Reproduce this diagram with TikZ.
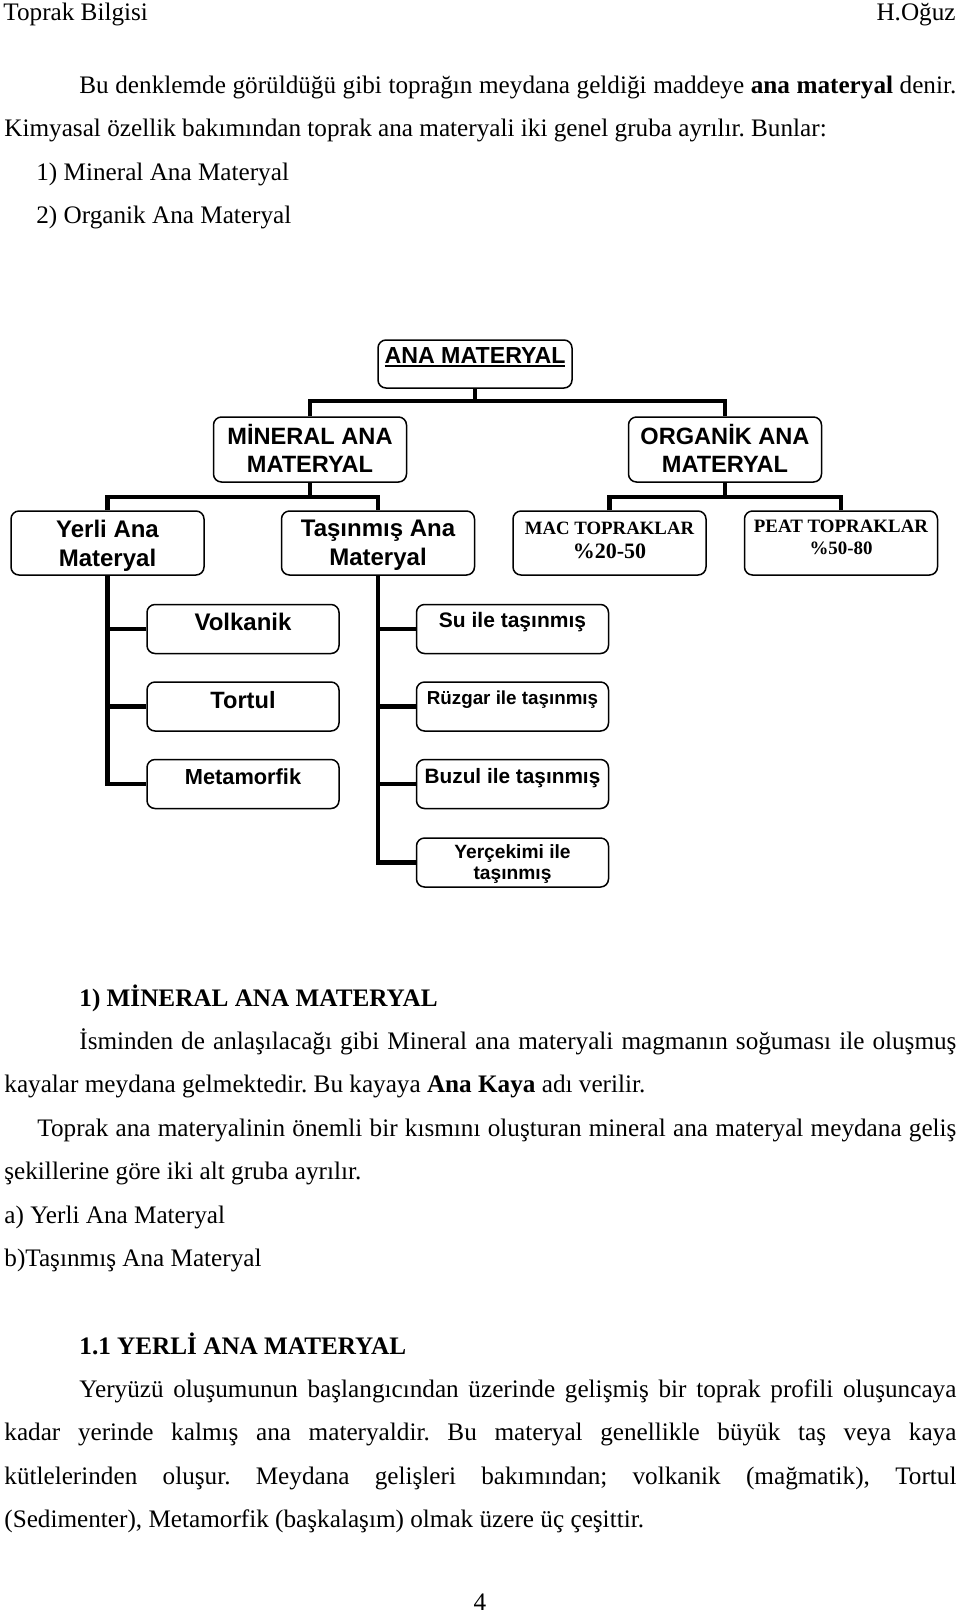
\documentclass[tikz,border=0pt]{standalone}
\usepackage{fontspec}
\setmainfont{Liberation Serif}
\newfontfamily\arialfont{Liberation Sans}
\usetikzlibrary{positioning,calc}
\pgfdeclarelayer{bg}
\pgfsetlayers{bg,main}
\frenchspacing
\newcommand{\bodyfont}{\fontsize{12.6}{15}\selectfont}
\newcommand{\boxf}[2]{\arialfont\bfseries\fontsize{#1}{#2}\selectfont}
\newcommand{\tbf}[2]{\bfseries\fontsize{#1}{#2}\selectfont}
\newcommand{\anaul}[1]{\setbox0\hbox{#1}\rlap{\rule[-1.8pt]{\wd0}{1pt}}\box0}
\newcommand{\jline}[2]{\makebox[#1][s]{#2}}
\tikzset{%
	matbox/.style  = {draw, line width=0.75pt, rounded corners=4pt, fill=white, inner sep=0pt, align=center},
	bigbox/.style  = {matbox, minimum width=96.5pt, minimum height=32pt},
	leafbox/.style = {matbox, minimum width=96pt, minimum height=24.5pt},
	link/.style    = {line width=2.2pt},
	txt/.style     = {anchor=base west, inner sep=0pt, font=\bodyfont},
}
\begin{document}
\begin{tikzpicture}[x=0.5pt,y=-0.5pt]
	\useasboundingbox (0,0) rectangle (960,1613);
	% page head
	\node[txt] (head) at (3,20) {Toprak Bilgisi};
	\node[txt,anchor=base east] (auth) at (956,20) {H.Oğuz};
	% text above the chart
	\node[txt] (p1) at (79,93) {\jline{438.5pt}{Bu denklemde görüldüğü gibi toprağın meydana geldiği maddeye \textbf{ana materyal} denir.}};
	\node[txt] (p2) at (4,136.5) {Kimyasal özellik bakımından toprak ana materyali iki genel gruba ayrılır. Bunlar:};
	\node[txt] (p3) at (36,180) {1) Mineral Ana Materyal};
	\node[txt] (p4) at (36,223.5) {2) Organik Ana Materyal};
	% chart
	\node[matbox, minimum width=97pt, minimum height=24pt, font=\boxf{11.6}{14}, text height=8pt, text depth=8.5pt] (ana) at (475,364) {\anaul{ANA MATERYAL}};
	\node[bigbox, minimum height=32.5pt, font=\boxf{11.8}{14}, text depth=1pt] (min) at (310,449.5) {MİNERAL ANA\\MATERYAL};
	\node[bigbox, minimum height=32.5pt, font=\boxf{11.8}{14}, text depth=1pt] (org) at (725,449.5) {ORGANİK ANA\\MATERYAL};
	\node[bigbox, font=\boxf{12}{14.4}, text depth=0pt] (yerli) at (107.5,543) {Yerli Ana\\Materyal};
	\node[bigbox, font=\boxf{12}{14.4}, text depth=0pt] (tas) at (378,543) {Taşınmış Ana\\Materyal};
	\node[bigbox, font=\tbf{9.4}{11}, text depth=3pt] (mac) at (609.5,543) {MAC TOPRAKLAR\\[1.2pt]{\fontsize{11}{11}\selectfont\%20-50}};
	\node[bigbox, font=\tbf{9.45}{10.8}, text depth=6pt] (peat) at (841,543) {PEAT TOPRAKLAR\\\%50-80};
	\node[leafbox, font=\boxf{12}{14}, text height=8.3pt, text depth=6.7pt] (volk) at (243,629) {Volkanik};
	\node[leafbox, font=\boxf{11.8}{14}, text height=8.1pt, text depth=6pt] (tortul) at (243,706.5) {Tortul};
	\node[leafbox, font=\boxf{10.9}{13}, text height=7.5pt, text depth=7pt] (meta) at (243,784) {Metamorfik};
	\node[leafbox, font=\boxf{10.5}{12}, text height=7.2pt, text depth=8.7pt] (su) at (512.5,629) {Su ile taşınmış};
	\node[leafbox, font=\boxf{9.4}{11}, text height=6.5pt, text depth=9pt] (ruz) at (512.5,706.5) {Rüzgar ile taşınmış};
	\node[leafbox, font=\boxf{10.4}{12}, text height=7.2pt, text depth=8pt] (buzul) at (512.5,784) {Buzul ile taşınmış};
	\node[leafbox, font=\boxf{9.6}{10.5}, text depth=0pt] (yer) at (512.5,862.5) {Yerçekimi ile\\taşınmış};
	\coordinate (j1) at (475,401);
	\coordinate (j2) at (310,497);
	\coordinate (j3) at (725,497);
	\begin{pgfonlayer}{bg}
		\draw[link] (ana.south) -- (j1);
		\draw[link] (min.north) |- (j1) -| (org.north);
		\draw[link] (min.south) -- (j2);
		\draw[link] (yerli.north) |- (j2) -| (tas.north);
		\draw[link] (org.south) -- (j3);
		\draw[link] (mac.north) |- (j3) -| (peat.north);
		\foreach \leaf in {volk,tortul,meta} \draw[link] (yerli.south) |- (\leaf.west);
		\foreach \leaf in {su,ruz,buzul,yer} \draw[link] (tas.south) |- (\leaf.west);
	\end{pgfonlayer}
	% text below the chart
	\node[txt] (h1) at (79,1006) {\textbf{1) MİNERAL ANA MATERYAL}};
	\node[txt] (q1) at (79,1049.4) {\jline{438.5pt}{İsminden de anlaşılacağı gibi Mineral ana materyali magmanın soğuması ile oluşmuş}};
	\node[txt] (q2) at (4,1092.8) {kayalar meydana gelmektedir. Bu kayaya \textbf{Ana Kaya} adı verilir.};
	\node[txt] (q3) at (37,1136.2) {\jline{459.5pt}{Toprak ana materyalinin önemli bir kısmını oluşturan mineral ana materyal meydana geliş}};
	\node[txt] (q4) at (4,1179.6) {şekillerine göre iki alt gruba ayrılır.};
	\node[txt] (q5) at (4,1223) {a) Yerli Ana Materyal};
	\node[txt] (q6) at (4,1266.4) {b)Taşınmış Ana Materyal};
	\node[txt] (h2) at (79,1354) {\textbf{1.1 YERLİ ANA MATERYAL}};
	\node[txt] (r1) at (79,1397.4) {\jline{438.5pt}{Yeryüzü oluşumunun başlangıcından üzerinde gelişmiş bir toprak profili oluşuncaya}};
	\node[txt] (r2) at (4,1440.8) {\jline{476pt}{kadar yerinde kalmış ana materyaldir. Bu materyal genellikle büyük taş veya kaya}};
	\node[txt] (r3) at (4,1484.2) {\jline{476pt}{kütlelerinden oluşur. Meydana gelişleri bakımından; volkanik (mağmatik), Tortul}};
	\node[txt] (r4) at (4,1527.6) {(Sedimenter), Metamorfik (başkalaşım) olmak üzere üç çeşittir.};
	\node[txt,anchor=base] (pg) at (480,1610) {4};
\end{tikzpicture}
\end{document}
